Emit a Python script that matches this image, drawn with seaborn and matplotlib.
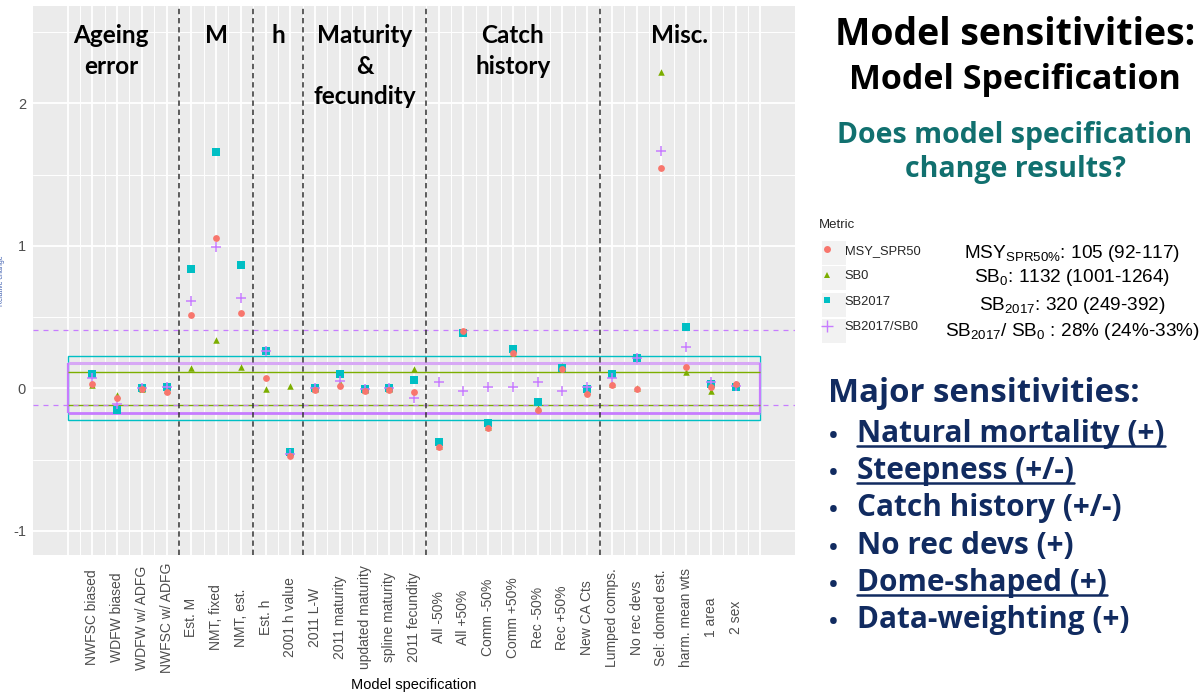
import numpy as np
import pandas as pd
import matplotlib
matplotlib.use("Agg")
import matplotlib.pyplot as plt
import seaborn as sns
from matplotlib.patches import Rectangle
from matplotlib.lines import Line2D

nan = np.nan
models = ["NWFSC biased", "WDFW biased", "WDFW w/ ADFG", "NWFSC w/ ADFG", "Est. M",
          "NMT, fixed", "NMT, est.", "Est. h", "2001 h value", "2011 L-W", "2011 maturity",
          "updated maturity", "spline maturity", "2011 fecundity", "All -50%", "All +50%",
          "Comm -50%", "Comm +50%", "Rec -50%", "Rec +50%", "New CA Cts", "Lumped comps.",
          "No rec devs", "Sel: domed est.", "harm. mean wts", "1 area", "2 sex"]
msy = [0.028, -0.07, -0.007, -0.024, 0.512, 1.057, 0.526, 0.075, -0.475, -0.012, 0.018,
       -0.019, -0.012, -0.024, -0.41, 0.402, -0.276, 0.246, -0.152, 0.135, -0.04, 0.023,
       -0.003, 1.544, 0.152, 0.007, 0.028]
sb0 = [0.02, -0.047, -0.003, -0.01, 0.14, 0.339, 0.152, -0.005, 0.016, -0.003, 0.035,
       -0.01, -0.005, 0.133, -0.405, 0.395, -0.27, 0.25, -0.136, 0.156, -0.02, 0.03,
       0.0, 2.222, 0.117, -0.017, 0.01]
sb2017 = [0.098, -0.152, 0.0, 0.007, 0.835, 1.656, 0.865, 0.264, -0.449, 0.0, 0.098,
          -0.005, 0.0, 0.058, -0.375, 0.386, -0.246, 0.274, -0.098, 0.145, -0.007, 0.098,
          0.215, nan, 0.432, 0.03, 0.007]
ratio = [0.07, -0.112, 0.005, 0.01, 0.613, 0.994, 0.632, 0.264, -0.46, 0.0, 0.053,
         -0.005, 0.0, -0.066, 0.042, -0.019, 0.011, 0.007, 0.046, -0.019, 0.011, 0.07,
         0.215, 1.665, 0.288, 0.042, 0.016]

metrics = ["MSY_SPR50", "SB0", "SB2017", "SB2017/SB0"]
groups = ["Ageing\nerror", "M", "h", "Maturity\n&\nfecundity", "Catch\nhistory", "Misc."]
group_x = [1.75, 6, 8.5, 12, 18, 24.75]
dividers = [4.5, 7.5, 9.5, 14.5, 21.5]
sb2017_ci = [-0.222, 0.225]
ratio_ci = [-0.17, 0.175]
sb0_ci = [-0.116, 0.117]
ref_lines = [0.41, -0.12]

ann_texts = [r"MSY$_{\mathregular{SPR50\%}}$: 105 (92-117)",
             r"SB$_{\mathregular{0}}$: 1132 (1001-1264)",
             r"SB$_{\mathregular{2017}}$: 320 (249-392)",
             r"SB$_{\mathregular{2017}}$/ SB$_{\mathregular{0}}$ : 28% (24%-33%)"]
bullets = ["Natural mortality (+)", "Steepness (+/-)", "Catch history (+/-)",
           "No rec devs (+)", "Dome-shaped (+)", "Data-weighting (+)"]
underlined = [True, True, False, False, True, False]

colors = {"MSY_SPR50": "#F8766D", "SB0": "#7CAE00", "SB2017": "#00BFC4", "SB2017/SB0": "#C77CFF"}
markers = {"MSY_SPR50": "o", "SB0": "^", "SB2017": "s", "SB2017/SB0": "+"}
sizes = {"MSY_SPR50": 24, "SB0": 22, "SB2017": 26, "SB2017/SB0": 60}

pos = np.arange(1, len(models) + 1)
df = pd.concat([
    pd.DataFrame({"pos": pos, "model": models, "value": vals, "Metric": m})
    for m, vals in zip(metrics, [msy, sb0, sb2017, ratio])
], ignore_index=True)

sns.set_theme(style="darkgrid")
plt.rcParams["font.family"] = ["Liberation Sans", "DejaVu Sans"]
plt.rcParams["mathtext.fontset"] = "custom"
plt.rcParams["mathtext.rm"] = "Liberation Sans"

W, H = 1203, 698
fig = plt.figure(figsize=(W / 100, H / 100), dpi=100)
ax = fig.add_axes([33 / W, 1 - 555 / H, (795 - 33) / W, (555 - 6) / H])
ax.set_facecolor("#EBEBEB")

# grid
xmaj = np.arange(0, len(models) + 2)
ax.set_xticks(xmaj)
ax.set_xticklabels([""] + models + [""], rotation=90, va="center", ha="center",
                   fontsize=10, color="#4D4D4D")
ax.set_xticks(np.arange(0.5, len(models) + 1, 1), minor=True)
ax.set_yticks([-1, 0, 1, 2])
ax.set_yticklabels(["-1", "0", "1", "2"], fontsize=10.5, color="#4D4D4D")
ax.set_yticks([-0.5, 0.5, 1.5, 2.5], minor=True)
ax.grid(which="major", color="white", linewidth=1.3)
ax.grid(which="minor", color="white", linewidth=0.7)
ax.tick_params(axis="x", which="major", length=3, width=0.9, color="#333333", pad=42)
ax.tick_params(axis="y", which="major", length=3, width=0.9, color="#333333", pad=2)
ax.tick_params(which="minor", length=0)
for t in (ax.xaxis.get_major_ticks()[0], ax.xaxis.get_major_ticks()[-1]):
    t.tick1line.set_visible(False)
for s in ax.spines.values():
    s.set_visible(False)

ax.set_xlim(-1.4, len(models) + 2.4)
ax.set_ylim(-1.17, 2.683)

# reference lines / CI boxes
xr = len(models) + 1
ax.add_patch(Rectangle((0, sb2017_ci[0]), xr, sb2017_ci[1] - sb2017_ci[0], fill=False,
                       ec="#00BFC4", lw=1.0, zorder=2))
ax.hlines(ratio_ci[1], 0, xr, color="#D7A8F5", lw=2.2, zorder=2)
ax.hlines(ratio_ci[0], 0, xr, color="#C77CFF", lw=2.0, zorder=2)
ax.vlines([0, xr], ratio_ci[0], ratio_ci[1], color="#C77CFF", lw=1.6, zorder=2)
ax.hlines(sb0_ci, 0, xr, color="#7CAE00", lw=1.0, zorder=2)
for r in ref_lines:
    ax.axhline(r, color="#C77CFF", lw=0.9, ls=(0, (4, 4)), zorder=2)
for d in dividers:
    ax.axvline(d, color="#333333", lw=1.1, ls=(0, (3.5, 2.5)), zorder=2)

# points
for m in ["SB0", "SB2017", "SB2017/SB0", "MSY_SPR50"]:
    sub = df[df["Metric"] == m]
    kw = dict(linewidth=1.1) if markers[m] == "+" else dict(linewidth=0)
    sns.scatterplot(data=sub, x="pos", y="value", color=colors[m], marker=markers[m],
                    s=sizes[m], ax=ax, zorder=3, legend=False, **kw)
ax.set_xlabel("Model specification", fontsize=10.5, color="black")
ax.xaxis.set_label_coords(0.5, (555 - 678) / 549)
ax.set_ylabel("Relative change", fontsize=5, color="#3F5FB0")
ax.yaxis.set_label_coords(-0.037, 0.5)

for g, gx in zip(groups, group_x):
    ax.text(gx, 2.555, g, ha="center", va="top", fontsize=17.5, fontweight="bold",
            family=["Lato", "DejaVu Sans"], linespacing=1.4, color="black", zorder=4)

# legend
leg_handles = [Line2D([], [], ls="", marker=markers[m], color=colors[m],
                      markersize=5 if markers[m] != "+" else 8,
                      markeredgewidth=0 if markers[m] != "+" else 1.0) for m in metrics]
key_y = [253, 278, 305, 331]
for ky in key_y:
    fig.patches.append(Rectangle((822 / W, 1 - (ky + 12) / H), 24 / W, 24 / H,
                                 transform=fig.transFigure, fc="#F2F2F2", ec="none",
                                 zorder=0))
leg = fig.legend(leg_handles, metrics, loc="upper left",
                 bbox_to_anchor=(819 / W, 1 - 219 / H), frameon=False, title="Metric",
                 fontsize=9.3, title_fontsize=9.5, labelspacing=1.05, handlelength=1.2,
                 handletextpad=0.8, borderaxespad=0, borderpad=0)
leg._legend_box.align = "left"

for t, ky in zip(ann_texts, key_y):
    fig.text(1072 / W, 1 - ky / H, t, ha="center", va="center", fontsize=13.7,
             color="black")

bold = ["Open Sans", "DejaVu Sans"]
fig.text(1015 / W, 1 - 45 / H, "Model sensitivities:", ha="center", va="baseline",
         fontsize=27, fontweight="bold", family=bold, color="black")
fig.text(1015 / W, 1 - 89 / H, "Model Specification", ha="center", va="baseline",
         fontsize=24.5, fontweight="bold", family=bold, color="black")
fig.text(1015 / W, 1 - 143 / H, "Does model specification", ha="center", va="baseline",
         fontsize=20.5, fontweight="bold", family=bold, color="#11706F")
fig.text(1015 / W, 1 - 177 / H, "change results?", ha="center", va="baseline",
         fontsize=20.5, fontweight="bold", family=bold, color="#11706F")

navy = "#112B60"
fig.text(828 / W, 1 - 402 / H, "Major sensitivities:", ha="left", va="baseline",
         fontsize=23.7, fontweight="bold", family=bold, color=navy)
btexts = []
for i, b in enumerate(bullets):
    yb = 442 + i * 37.2
    fig.text(833 / W, 1 - (yb + 1) / H, "\u2022", ha="center", va="baseline", fontsize=17,
             fontweight="bold", family=bold, color=navy)
    btexts.append(fig.text(857 / W, 1 - yb / H, b, ha="left", va="baseline", fontsize=21.4,
                           fontweight="bold", family=bold, color=navy))

fig.canvas.draw()
r = fig.canvas.get_renderer()
for i, (t, u) in enumerate(zip(btexts, underlined)):
    if u:
        bb = t.get_window_extent(r)
        yb = 442 + i * 37.2 + 4
        fig.add_artist(Line2D([bb.x0 / W, bb.x1 / W], [1 - yb / H, 1 - yb / H],
                              transform=fig.transFigure, color=navy, lw=1.8))

fig.savefig("out.png", dpi=100)
